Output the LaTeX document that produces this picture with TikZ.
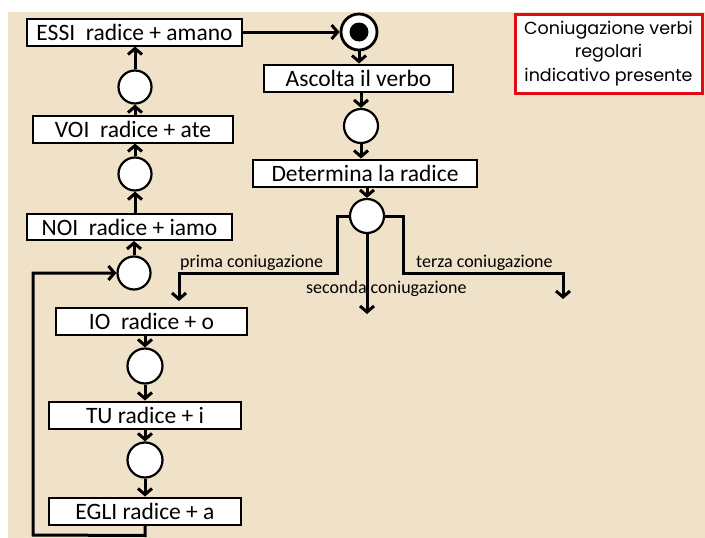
\documentclass[tikz,border=0pt]{standalone}
\usepackage{fontspec}
\setmainfont{Carlito}
\newfontfamily\titlefont{Poppins}
\usetikzlibrary{arrows.meta}
\definecolor{parch}{RGB}{240,226,200}
\definecolor{titlered}{RGB}{226,10,20}
\begin{document}
\begin{tikzpicture}[x=1pt,y=-1pt,
  box/.style={draw=black, line width=2pt, fill=white, inner sep=0pt, minimum height=27pt, font=\fontsize{23.5}{25}\selectfont},
  ring/.style={circle, draw=black, line width=2.2pt, fill=white, minimum size=33pt, inner sep=0pt},
  arr/.style={line width=3pt, -{Straight Barb[length=6pt,width=14pt]}},
  lbl/.style={font=\fontsize{18}{20}\selectfont, inner sep=0pt}
]
\useasboundingbox (0,0) rectangle (705,538);
\fill[white] (0,0) rectangle (705,538);
\fill[parch] (8,12) rectangle (705,538);

% left column
\node[box, minimum width=215pt] (essi) at (134.5,32) {ESSI\ \ radice + amano};
\node[ring] (c1) at (135,87) {};
\node[box, minimum width=200pt] (voi) at (133,129) {VOI\ \ radice + ate};
\node[ring] (c2) at (135,174) {};
\node[box, minimum width=205pt, minimum height=26pt] (noi) at (129.5,227) {NOI\ \ radice + iamo};
\node[ring] (c3) at (134,273) {};
\node[box, minimum width=191pt] (io) at (151.5,321) {IO\ \ radice + o};
\node[ring, minimum size=35pt] (c4) at (145,366) {};
\node[box, minimum width=192pt] (tu) at (145,415) {TU radice + i};
\node[ring, minimum size=35pt] (c5) at (145,460) {};
\node[box, minimum width=192pt] (egli) at (145,511) {EGLI radice + a};

% right column
\node[ring, line width=2.8pt, minimum size=36pt] (start) at (359,32) {};
\node[circle, fill=black, minimum size=19pt, inner sep=0pt] (dot) at (start) {};
\node[box, minimum width=189pt] (ascolta) at (358.5,78) {Ascolta il verbo};
\node[ring, minimum size=34pt] (c6) at (361,126) {};
\node[box, minimum width=224pt] (determina) at (365,173) {Determina la radice};
\node[ring, minimum size=34pt] (c7) at (367,216) {};

% title
\node[draw=titlered, line width=3pt, fill=white, minimum width=187pt, minimum height=79pt, inner sep=0pt, align=center, font=\titlefont\fontsize{17.5}{23.5}\selectfont] (title) at (608.5,53.5) {Coniugazione verbi\\regolari\\indicativo presente};

% free ends
\coordinate (pend) at (179,301);
\coordinate (send) at (367,314);
\coordinate (tend) at (563,299);

% connectors
\draw[arr] (essi.east) -- (start.west);
\draw[arr] (start.south) -- (start.south |- ascolta.north);
\draw[arr] (ascolta.south -| c6) -- (c6.north);
\draw[arr] (c6.south) -- (c6.south |- determina.north);
\draw[arr] (determina.south -| c7) -- (c7.north);

\draw[arr] (c7.west) -- (337,216) -- (337,273) -- (179,273) -- (pend);
\draw[arr] (c7.south) -- (send);
\draw[arr] (c7.east) -- (403,216) -- (403,273) -- (563,273) -- (tend);

\draw[arr] (c3.north) -- (c3.north |- noi.south);
\draw[arr] (noi.north -| c2) -- (c2.south);
\draw[arr] (c2.north) -- (c2.north |- voi.south);
\draw[arr] (voi.north -| c1) -- (c1.south);
\draw[arr] (c1.north) -- (c1.north |- essi.south);

\draw[arr] (io.south -| c4) -- (c4.north);
\draw[arr] (c4.south) -- (c4.south |- tu.north);
\draw[arr] (tu.south -| c5) -- (c5.north);
\draw[arr] (c5.south) -- (c5.south |- egli.north);

\draw[arr] (egli.south) -- ++(0,10) -- (33,535) -- (33,273) -- (c3.west);

% labels
\node[lbl, anchor=base west] (lp) at (180,267) {prima coniugazione};
\node[lbl, anchor=base west] (lt) at (416,267) {terza coniugazione};
\node[lbl, anchor=base west] (ls) at (306,293) {seconda coniugazione};
\end{tikzpicture}
\end{document}
